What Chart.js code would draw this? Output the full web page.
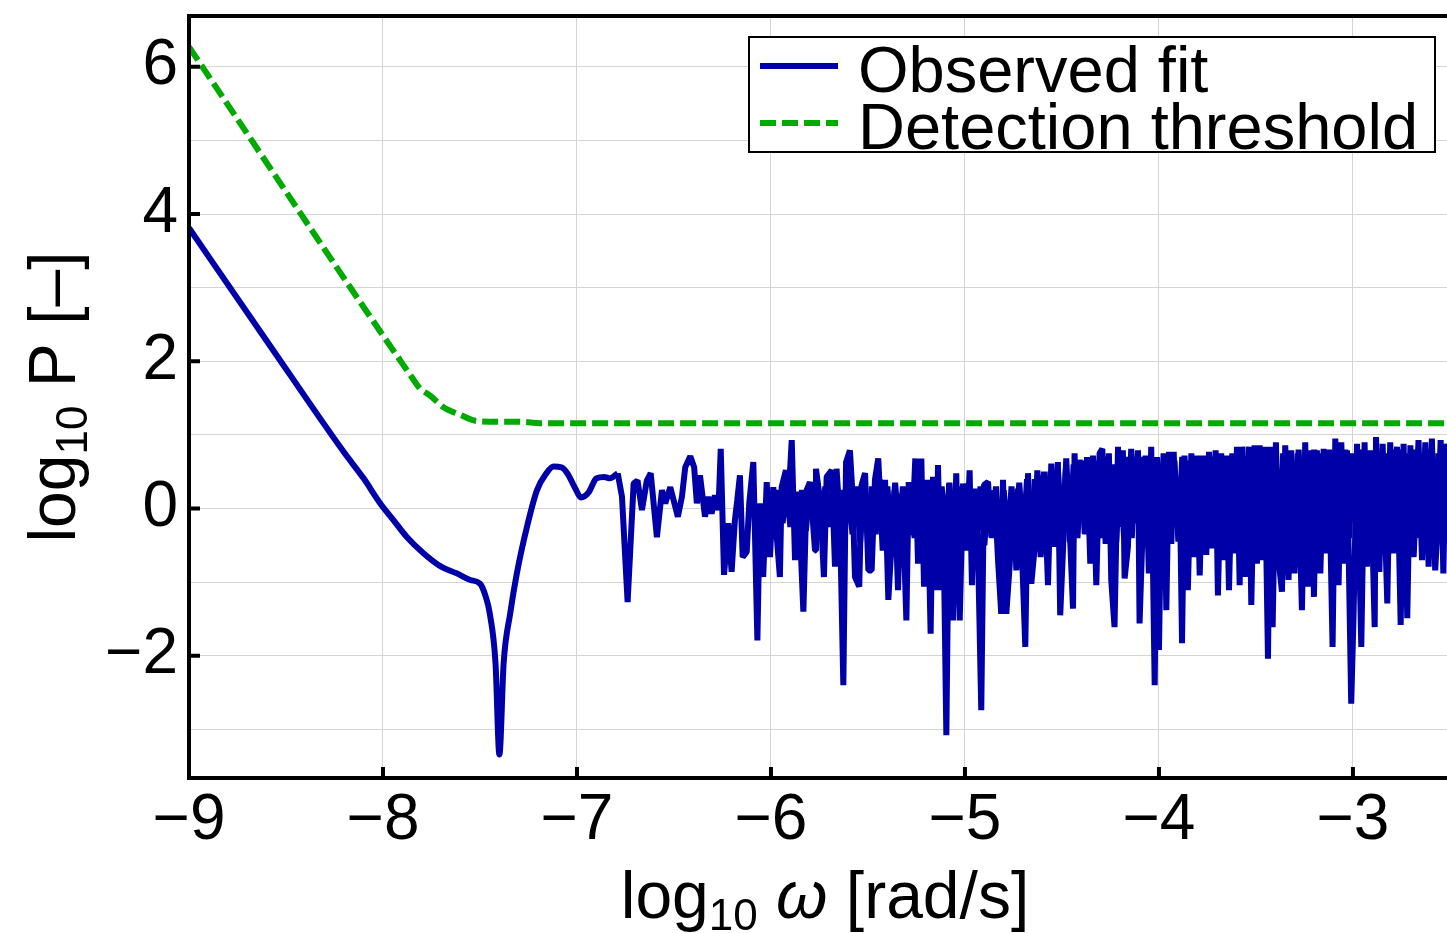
<!DOCTYPE html>
<html>
<head>
<meta charset="utf-8">
<script src="https://cdn.jsdelivr.net/npm/chart.js@4.4.1/dist/chart.umd.min.js"></script>
<style>
  html, body { margin: 0; padding: 0; background: #fff; overflow: hidden; width: 1447px; height: 933px; }
  canvas { display: block; }
</style>
</head>
<body>
<canvas id="spectrum" width="1465" height="933"></canvas>
<script>
const FONT = "'Liberation Sans', Arial, Helvetica, sans-serif";

// axis ranges and ticks
const xMin = -9, xMax = -2.443;
const yMin = -3.66, yMax = 6.69;
const xTicks = [-9, -8, -7, -6, -5, -4, -3];
const yGrid = [-3, -2, -1, 0, 1, 2, 3, 4, 5, 6];
const yLabelled = [-2, 0, 2, 4, 6];

// detection threshold (green dashed)
const threshX = [-9, -7.84, -7.81, -7.76, -7.69, -7.60, -7.52, -7.45, -7.29, -7.19, -7, -6, -5, -4, -3, -2.443];
const threshY = [6.27, 1.74, 1.63, 1.54, 1.38, 1.27, 1.19, 1.18, 1.18, 1.16, 1.16, 1.16, 1.16, 1.16, 1.16, 1.16];

// observed fit, smooth low-frequency part
const fitSmoothX = [-9, -8.6, -8.2, -8.1, -8.014, -7.945, -7.876, -7.79, -7.70, -7.62, -7.55, -7.50, -7.47, -7.45, -7.42,
  -7.40, -7.378, -7.344, -7.31, -7.258, -7.206, -7.16, -7.121, -7.08, -7.05, -7.01, -6.98, -6.94, -6.90, -6.86, -6.83, -6.79];
const fitSmoothY = [3.81, 2.28, 0.76, 0.41, 0.07, -0.16, -0.39, -0.61, -0.79, -0.88, -0.97, -1.02, -1.20, -1.42, -2.10,
  -3.34, -2.10, -1.42, -0.88, -0.25, 0.25, 0.47, 0.57, 0.56, 0.48, 0.28, 0.15, 0.22, 0.41, 0.43, 0.41, 0.48];

// observed fit, noisy high-frequency part: peaks and troughs
const fitNoiseX = [
  -6.790, -6.768, -6.739, -6.708, -6.688, -6.665, -6.640, -6.620, -6.588, -6.562, -6.545, -6.519, -6.480, -6.459, -6.442, -6.416, -6.396, -6.382,
  -6.366, -6.340, -6.323, -6.306, -6.289, -6.271, -6.259, -6.242, -6.220, -6.203, -6.186, -6.174, -6.160, -6.146, -6.125, -6.112, -6.091, -6.070,
  -6.057, -6.040, -6.022, -6.005, -5.988, -5.974, -5.954, -5.945, -5.923, -5.911, -5.893, -5.876, -5.859, -5.833, -5.816, -5.799, -5.773, -5.768,
  -5.747, -5.727, -5.713, -5.687, -5.670, -5.662, -5.644, -5.627, -5.613, -5.593, -5.579, -5.567, -5.545, -5.533, -5.515, -5.498, -5.481, -5.464,
  -5.447, -5.424, -5.412, -5.395,
  -5.363, -5.345, -5.332, -5.320, -5.302, -5.290, -5.273, -5.256, -5.242, -5.225, -5.211, -5.194, -5.177, -5.165, -5.148, -5.139, -5.125, -5.113,
  -5.096, -5.082, -5.062, -5.045, -5.027, -5.010, -4.993, -4.976, -4.964, -4.950, -4.933, -4.916, -4.902, -4.881, -4.864, -4.847, -4.830, -4.813,
  -4.804, -4.787, -4.770, -4.753, -4.735, -4.727, -4.706, -4.689, -4.675, -4.658, -4.641, -4.627, -4.610, -4.593, -4.572, -4.555, -4.538, -4.521,
  -4.509, -4.495, -4.478, -4.460, -4.443, -4.435,
  -4.423, -4.409, -4.392, -4.383, -4.371, -4.354, -4.340, -4.323, -4.306, -4.292, -4.275, -4.258, -4.246, -4.229, -4.211, -4.203, -4.186, -4.177,
  -4.160, -4.143, -4.125, -4.108, -4.100, -4.086, -4.069, -4.052, -4.040, -4.022, -4.010, -4.000, -3.988, -3.976, -3.962, -3.948, -3.936, -3.924,
  -3.911, -3.893, -3.881, -3.868, -3.851, -3.833, -3.816, -3.804, -3.790, -3.773, -3.756, -3.742, -3.725, -3.708, -3.696, -3.679, -3.667, -3.653,
  -3.639, -3.622, -3.610, -3.598, -3.584, -3.570, -3.553, -3.536, -3.524, -3.507, -3.495, -3.481,
  -3.469, -3.455, -3.438, -3.426, -3.414, -3.397, -3.383, -3.366, -3.349, -3.332, -3.318, -3.301, -3.284, -3.263, -3.246, -3.232, -3.215, -3.201,
  -3.186, -3.168, -3.151, -3.139, -3.125, -3.105, -3.091, -3.074, -3.060, -3.043, -3.031, -3.009, -2.997, -2.979, -2.957, -2.940, -2.928, -2.911,
  -2.888, -2.881, -2.864, -2.847, -2.823, -2.808, -2.790, -2.773, -2.754, -2.739, -2.720, -2.704, -2.687, -2.662, -2.644, -2.627, -2.610, -2.593,
  -2.576, -2.562, -2.548, -2.534, -2.521, -2.505
];
const fitNoiseY = [
  0.48, 0.16, -1.27, 0.34, 0.38, -0.02, 0.38, 0.48, -0.39, 0.25, 0.07, 0.29, -0.11, 0.16, 0.56, 0.71, 0.56, 0.07,
  0.45, -0.11, 0.16, -0.07, 0.18, -0.02, 0.81, -0.90, -0.20, -0.86, -0.16, 0.11, 0.45, -0.66, -0.59, 0.07, 0.63, -1.79,
  0.07, -0.93, 0.36, -0.66, 0.29, -0.25, -0.93, 0.29, 0.52, 0.07, 0.93, -0.70, 0.23, -1.40, 0.25, 0.36, -0.57, 0.54,
  0.11, -0.93, 0.43, 0.52, -0.79, 0.54, -0.20, -2.40, 0.63, 0.79, 0.16, -0.93, -1.06, 0.32, 0.48, -0.84, -0.84, 0.39,
  0.68, -0.57, 0.39, -1.24,
  0.25, -1.11, 0.20, -0.02, -1.52, 0.36, -0.36, 0.68, -0.75, 0.68, -1.06, 0.39, -1.70, 0.43, -1.11, 0.59, -1.11, 0.18,
  -3.08, 0.34, -1.52, 0.48, -1.52, 0.34, -0.57, 0.52, -1.04, 0.27, -0.52, -2.74, 0.32, 0.36, -0.39, 0.25, -0.68, -1.43,
  0.39, -1.43, -0.79, 0.20, -0.84, 0.27, -0.61, -1.88, 0.48, -1.02, -0.54, 0.52, -0.66, 0.50, -1.04, 0.61, -0.52, 0.63,
  -1.45, -0.59, 0.68, -0.29, -1.36, 0.75,
  -0.34, 0.66, 0.29, -0.34, 0.70, -0.75, 0.72, -1.04, 0.75, 0.81, -0.48, 0.75, -0.97, -1.61, 0.84, -0.25, 0.79, -0.95,
  -0.52, 0.81, -0.20, 0.79, -1.56, -0.43, 0.72, -0.88, 0.84, -2.40, 0.70, -1.92, 0.07, 0.75, -1.38, 0.77, -0.48, 0.77,
  -0.25, 0.36, -1.83, 0.72, -1.11, 0.75, -0.66, 0.72, -0.91, 0.72, -0.63, 0.77, -0.54, 0.79, -1.18, 0.75, -0.70, 0.72,
  -1.11, 0.75, -0.61, 0.84, -1.04, 0.84, -0.93, 0.84, -1.31, 0.86, -0.75, 0.86,
  -0.70, 0.84, -2.04, 0.84, -1.61, 0.90, -0.70, -1.13, 0.86, -0.97, 0.79, -0.88, 0.75, -1.38, 0.90, -1.06, 0.79, -1.20,
  0.79, -0.88, 0.81, -0.61, 0.79, -1.88, 0.95, -1.04, 0.90, -0.75, 0.79, -2.65, -1.47, 0.88, -1.88, 0.90, -0.79, 0.79,
  -1.61, 0.97, -0.86, 0.88, -1.29, 0.90, -0.61, 0.84, -1.58, 0.88, -1.49, 0.86, -0.66, 0.93, -0.70, 0.90, -0.79, 0.95,
  -0.84, -0.16, 0.93, -0.88, 0.88, 0.30
];

// observed fit, dense core of the noisy band (samples between the peaks above)
const fitCoreX = [
  -6.00, -5.98, -5.96, -5.94, -5.92, -5.90, -5.88, -5.86, -5.84, -5.82, -5.80, -5.78, -5.76, -5.74, -5.72, -5.70, -5.68, -5.66, -5.64, -5.62,
  -5.60, -5.58, -5.56, -5.54, -5.52, -5.50, -5.48, -5.46, -5.44, -5.42, -5.40, -5.38, -5.36, -5.34, -5.32, -5.30, -5.28, -5.26, -5.24, -5.22,
  -5.20, -5.18, -5.16, -5.14, -5.12, -5.10, -5.08, -5.06, -5.04, -5.02,
  -5.00, -4.98, -4.96, -4.94, -4.92, -4.90, -4.88, -4.86, -4.84, -4.82, -4.80, -4.78, -4.76, -4.74, -4.72, -4.70, -4.68, -4.66, -4.64, -4.62,
  -4.60, -4.58, -4.56, -4.54, -4.52, -4.50, -4.48, -4.46,
  -4.44, -4.42, -4.40, -4.38, -4.36, -4.34, -4.32, -4.30, -4.28, -4.26, -4.24, -4.22, -4.20, -4.18, -4.16, -4.14, -4.12, -4.10, -4.08, -4.06,
  -4.04, -4.02, -4.00, -3.98, -3.96, -3.94, -3.92, -3.90, -3.88, -3.86, -3.84, -3.82, -3.80, -3.78, -3.76, -3.74, -3.72, -3.70, -3.68, -3.66,
  -3.64, -3.62, -3.60, -3.58, -3.56, -3.54, -3.52,
  -3.50, -3.48, -3.46, -3.44, -3.42, -3.40, -3.38, -3.36, -3.34, -3.32, -3.30, -3.28, -3.26, -3.24, -3.22, -3.20, -3.18, -3.16, -3.14, -3.12,
  -3.10, -3.08, -3.06, -3.04, -3.02, -3.00, -2.98, -2.96, -2.94, -2.92, -2.90, -2.88, -2.86, -2.84, -2.82, -2.80, -2.78, -2.76, -2.74, -2.72,
  -2.70, -2.68, -2.66, -2.64, -2.62, -2.60, -2.58, -2.56, -2.54, -2.52, -2.50
];
const fitCoreY = [
  0.20, -0.30, 0.25, -0.20, 0.30, -0.25, 0.20, -0.35, 0.25, -0.30, 0.30, -0.20, 0.35, -0.30, 0.30, -0.25, 0.35, -0.30, 0.25, -0.35,
  0.40, -0.35, 0.30, -0.45, 0.35, -0.40, 0.30, -0.35, 0.40, -0.45, 0.30, -0.40, 0.35, -0.35, 0.30, -0.45, 0.35, -0.40, 0.40, -0.35,
  0.30, -0.45, 0.35, -0.40, 0.30, -0.35, 0.35, -0.45, 0.30, -0.40,
  0.30, -0.45, 0.25, -0.40, 0.30, -0.50, 0.25, -0.40, 0.30, -0.45, 0.25, -0.50, 0.30, -0.40, 0.35, -0.45, 0.40, -0.50, 0.40, -0.40,
  0.45, -0.45, 0.50, -0.50, 0.50, -0.40, 0.55, -0.45,
  0.60, -0.40, 0.65, -0.35, 0.60, -0.45, 0.65, -0.40, 0.70, -0.35, 0.60, -0.45, 0.65, -0.40, 0.70, -0.40, 0.65, -0.35, 0.70, -0.45,
  0.65, -0.40, 0.60, -0.35, 0.70, -0.40, 0.65, -0.45, 0.70, -0.40, 0.65, -0.35, 0.70, -0.45, 0.65, -0.40, 0.70, -0.35, 0.65, -0.40,
  0.70, -0.45, 0.65, -0.40, 0.70, -0.35, 0.70,
  -0.45, 0.75, -0.40, 0.75, -0.45, 0.80, -0.40, 0.75, -0.50, 0.75, -0.40, 0.80, -0.45, 0.75, -0.40, 0.80, -0.45, 0.75, -0.50, 0.80,
  -0.40, 0.75, -0.45, 0.80, -0.40, 0.75, -0.45, 0.80, -0.40, 0.75, -0.50, 0.80, -0.45, 0.75, -0.40, 0.80, -0.45, 0.80, -0.40, 0.75,
  -0.45, 0.80, -0.40, 0.75, -0.45, 0.80, -0.40, 0.75, -0.45, 0.80, -0.40
];

const BLUE = '#0000a8';
const GREEN = '#00aa00';

const pts = (xs, ys) => xs.map((x, i) => ({ x, y: ys[i] }));
const fmt = v => v < 0 ? '\u2212' + Math.abs(v) : String(v);

// draws text pieces (with sub-scripts) centred on x
function drawRich(ctx, parts, x, y) {
  const setFont = p => { ctx.font = (p.italic ? 'italic ' : '') + p.size + 'px ' + FONT; };
  let w = 0;
  parts.forEach(p => { setFont(p); w += ctx.measureText(p.t).width; });
  let cx = x - w / 2;
  parts.forEach(p => {
    setFont(p);
    ctx.fillText(p.t, cx, y + (p.dy || 0));
    cx += ctx.measureText(p.t).width;
  });
}

const xTitle = [{t: 'log', size: 66}, {t: '10', size: 44, dy: 12}, {t: ' ', size: 66}, {t: '\u03c9', size: 66, italic: true}, {t: ' [rad/s]', size: 66}];
const yTitle = [{t: 'log', size: 66}, {t: '10', size: 44, dy: 12}, {t: ' P [\u2013]', size: 66}];

const frame = {
  id: 'frame',
  afterDraw(chart) {
    const { ctx, chartArea: a, scales: { x, y } } = chart;
    ctx.save();
    ctx.strokeStyle = '#000';
    ctx.lineWidth = 4;
    ctx.lineJoin = 'miter';
    ctx.strokeRect(a.left, a.top, a.right - a.left, a.bottom - a.top);

    // inward ticks
    ctx.beginPath();
    yLabelled.forEach(v => {
      const py = y.getPixelForValue(v);
      ctx.moveTo(a.left, py); ctx.lineTo(a.left + 11, py);
    });
    xTicks.forEach(v => {
      const px = x.getPixelForValue(v);
      ctx.moveTo(px, a.bottom); ctx.lineTo(px, a.bottom - 11);
    });
    ctx.stroke();

    // axis titles
    ctx.fillStyle = '#000';
    ctx.textAlign = 'left';
    ctx.textBaseline = 'alphabetic';
    drawRich(ctx, xTitle, (a.left + a.right) / 2, 918);
    ctx.save();
    ctx.translate(75, (a.top + a.bottom) / 2);
    ctx.rotate(-Math.PI / 2);
    drawRich(ctx, yTitle, 0, 0);
    ctx.restore();

    // legend
    const items = chart.data.datasets.filter(d => !d.noLegend);
    const bx = 749, by = 37, bw = 686, bh = 115;
    ctx.fillStyle = '#fff';
    ctx.fillRect(bx, by, bw, bh);
    ctx.lineWidth = 2;
    ctx.strokeRect(bx, by, bw, bh);
    items.forEach((d, i) => {
      const ly = 66 + i * 57;
      ctx.beginPath();
      ctx.setLineDash(d.borderDash || []);
      ctx.strokeStyle = d.borderColor;
      ctx.lineWidth = 6;
      ctx.moveTo(760, ly); ctx.lineTo(838, ly);
      ctx.stroke();
      ctx.setLineDash([]);
      ctx.fillStyle = '#000';
      ctx.font = '65px ' + FONT;
      ctx.fillText(d.label, 858, ly + 26);
    });
    ctx.restore();
  }
};

const blueLine = { borderColor: BLUE, borderWidth: 6, pointRadius: 0, borderJoinStyle: 'bevel' };

new Chart(document.getElementById('spectrum'), {
  type: 'line',
  data: {
    datasets: [
      Object.assign({ label: 'Observed fit', data: pts(fitSmoothX, fitSmoothY), cubicInterpolationMode: 'monotone' }, blueLine),
      Object.assign({ label: 'Observed fit', noLegend: true, data: pts(fitCoreX, fitCoreY), tension: 0 }, blueLine),
      Object.assign({ label: 'Observed fit', noLegend: true, data: pts(fitNoiseX, fitNoiseY), tension: 0 }, blueLine),
      {
        label: 'Detection threshold',
        data: pts(threshX, threshY),
        borderColor: GREEN, borderWidth: 6, borderDash: [16, 6], pointRadius: 0,
        cubicInterpolationMode: 'monotone'
      }
    ]
  },
  options: {
    responsive: false,
    animation: false,
    devicePixelRatio: 1,
    parsing: false,
    layout: { padding: { top: 16, right: 4, left: 0, bottom: 0 } },
    plugins: { legend: { display: false }, tooltip: { enabled: false } },
    scales: {
      x: {
        type: 'linear', min: xMin, max: xMax,
        afterBuildTicks: s => { s.ticks = xTicks.map(v => ({ value: v })); },
        afterFit: s => { s.height = 155; s.paddingLeft = 0; s.paddingRight = 0; },
        grid: { color: '#d4d4d4', lineWidth: 1, drawTicks: false },
        border: { display: false },
        ticks: { callback: v => fmt(v), color: '#000', font: { family: FONT, size: 64 }, padding: 5, maxRotation: 0, autoSkip: false }
      },
      y: {
        type: 'linear', min: yMin, max: yMax,
        afterBuildTicks: s => { s.ticks = yGrid.map(v => ({ value: v })); },
        afterFit: s => { s.width = 189; s.paddingTop = 0; s.paddingBottom = 0; },
        grid: { color: '#d4d4d4', lineWidth: 1, drawTicks: false },
        border: { display: false },
        ticks: { callback: v => yLabelled.includes(v) ? fmt(v) : '', color: '#000', font: { family: FONT, size: 64 }, padding: 11, autoSkip: false }
      }
    }
  },
  plugins: [frame]
});
</script>
</body>
</html>
